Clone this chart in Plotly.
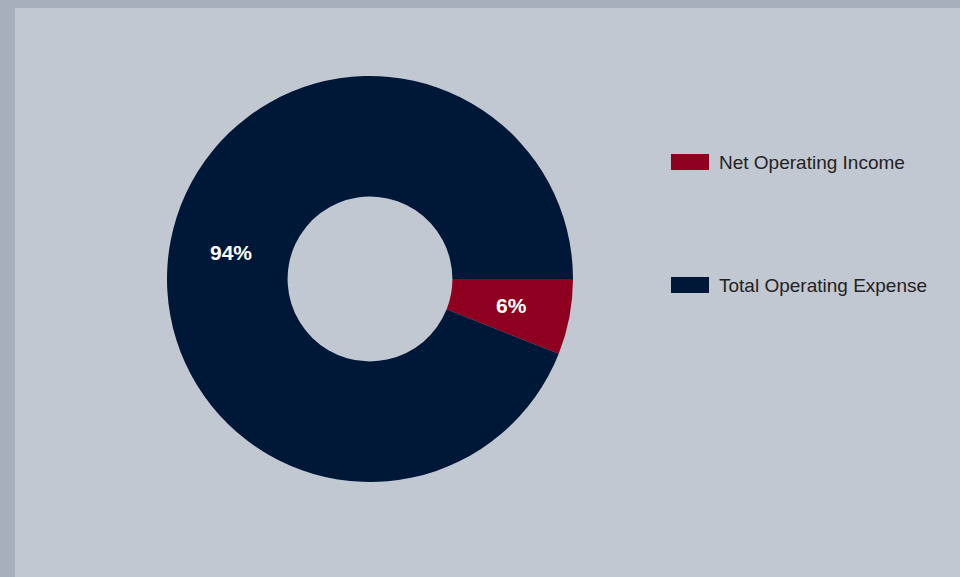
import math
import plotly.graph_objects as go

# Operating summary split
labels = ["Net Operating Income", "Total Operating Expense"]
values = [6, 94]
colors = ["#8f0020", "#001838"]

W, H = 960, 577

def px_x(x):
    return x / W

def px_y(y):
    return 1 - y / H

# donut geometry in pixels
cx, cy, r_out = 370, 279, 203
hole = 0.406
r_mid = (r_out * hole + r_out) / 2

fig = go.Figure()

fig.add_trace(go.Pie(
    labels=labels,
    values=values,
    hole=hole,
    sort=False,
    direction="clockwise",
    rotation=90,
    marker=dict(colors=colors, line=dict(width=0)),
    textinfo="none",
    domain=dict(x=[px_x(cx - r_out), px_x(cx + r_out)],
                y=[px_y(cy + r_out), px_y(cy - r_out)]),
    showlegend=False,
    hoverinfo="label+percent",
))

# percentage labels placed at the middle of each slice
total = sum(values)
start = 0.0
for v in values:
    frac = v / total
    mid = (start + frac / 2) * 2 * math.pi  # clockwise from 3 o'clock
    tx = cx + r_mid * math.cos(mid)
    ty = cy + r_mid * math.sin(mid)
    fig.add_annotation(text=f"{frac:.0%}", xref="paper", yref="paper",
                       x=px_x(tx + 1), y=px_y(ty), xanchor="center", yanchor="middle",
                       showarrow=False,
                       font=dict(family="Liberation Sans", size=21,
                                 color="#ffffff", weight="bold"))
    start += frac

# inner panel over the outer frame
fig.add_shape(type="rect", xref="paper", yref="paper",
              x0=px_x(15), x1=1, y0=0, y1=px_y(8),
              fillcolor="#c2c8d1", line=dict(width=0), layer="below")

# legend drawn as swatches and labels
legend_rows = [162, 285]
for lab, col, yc in zip(labels, colors, legend_rows):
    fig.add_shape(type="rect", xref="paper", yref="paper",
                  x0=px_x(671), x1=px_x(709), y0=px_y(yc + 8), y1=px_y(yc - 8),
                  fillcolor=col, line=dict(width=0))
    fig.add_annotation(text=lab, xref="paper", yref="paper",
                       x=px_x(717), y=px_y(yc), xanchor="left", yanchor="middle",
                       showarrow=False,
                       font=dict(family="Liberation Sans", size=19, color="#222222"))

fig.update_layout(
    width=W, height=H,
    margin=dict(l=0, r=0, t=0, b=0),
    paper_bgcolor="#a8afbc",
    plot_bgcolor="#c2c8d1",
)

fig.write_html("out.html")
